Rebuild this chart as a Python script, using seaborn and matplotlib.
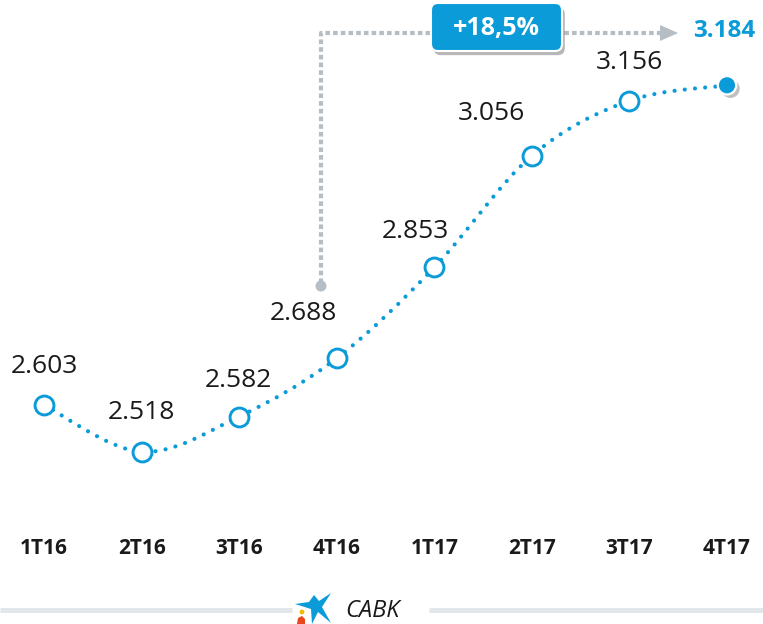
import numpy as np
import pandas as pd
import matplotlib
matplotlib.use("Agg")
import matplotlib.pyplot as plt
import matplotlib.patheffects as pe
from matplotlib.path import Path
from matplotlib.patches import PathPatch, FancyBboxPatch, Polygon, Circle
import seaborn as sns

# data
quarters = ["1T16", "2T16", "3T16", "4T16", "1T17", "2T17", "3T17", "4T17"]
values = [2603, 2518, 2582, 2688, 2853, 3056, 3156, 3184]
value_labels = ["2.603", "2.518", "2.582", "2.688", "2.853", "3.056", "3.156", "3.184"]
growth_label = "+18,5%"
brand = "CABK"

BLUE = "#0a9bd8"
GREY = "#b5bec4"
DARK = "#1a1a1a"

sns.set_theme(style="white")
plt.rcParams["font.family"] = ["Open Sans", "DejaVu Sans"]

df = pd.DataFrame({"quarter": quarters, "value": values})
df["pos"] = np.arange(len(df))

fig = plt.figure(figsize=(7.63, 6.24), dpi=100)
ax = fig.add_axes([0, 0, 1, 1])
ax.set_xlim(-0.451, 7.369)
ax.set_ylim(2205, 3339)
ax.axis("off")

# smoothed dotted line (catmull-rom segments as cubic bezier)
pts = df[["pos", "value"]].to_numpy(float)
ext = np.vstack([pts[0], pts, pts[-1]])
verts = [tuple(pts[0])]
codes = [Path.MOVETO]
for i in range(len(pts) - 1):
    p0, p1, p2, p3 = ext[i], ext[i + 1], ext[i + 2], ext[i + 3]
    verts += [tuple(p1 + (p2 - p0) / 6), tuple(p2 - (p3 - p1) / 6), tuple(p2)]
    codes += [Path.CURVE4] * 3
ax.add_patch(PathPatch(Path(verts, codes), fill=False, edgecolor=BLUE, lw=3,
                       linestyle=(0, (0.01, 2.45)), capstyle="round", zorder=2))

# open markers
sns.scatterplot(data=df.iloc[:-1], x="pos", y="value", s=185, marker="o",
                facecolor="white", edgecolor=BLUE, linewidth=2.1, zorder=3,
                ax=ax, legend=False)
# last point filled
sns.scatterplot(data=df.iloc[-1:], x="pos", y="value", s=175, marker="o",
                color=BLUE, edgecolor="white", linewidth=1.6, zorder=4,
                ax=ax, legend=False)
ax.collections[-1].set_path_effects([
    pe.SimplePatchShadow(offset=(2.5, -2.5), shadow_rgbFace="#808080", alpha=0.5),
    pe.Normal()])
ax.set_xlim(-0.451, 7.369)
ax.set_ylim(2205, 3339)

# value labels (offsets in pixels)
label_dx = [0, 0, -1, -33, -19, -40, 0]
label_dy = [38, 39, 36, 45, 36, 42, 38]
for i in range(len(df) - 1):
    ax.annotate(value_labels[i], (df["pos"][i], df["value"][i]),
                xytext=(label_dx[i] * 0.72, label_dy[i] * 0.72),
                textcoords="offset points", ha="center", va="center",
                fontsize=19, color=DARK)
ax.annotate(value_labels[-1], (df["pos"].iloc[-1], df["value"].iloc[-1]),
            xytext=(-3 * 0.72, 54 * 0.72), textcoords="offset points",
            ha="center", va="center", fontsize=17.5, fontweight="bold", color=BLUE)

# category labels
for i, q in enumerate(quarters):
    ax.text(i, 1 - 548 / 624, q, transform=ax.get_xaxis_transform(),
            ha="center", va="center", fontsize=15, fontweight="bold", color=DARK)

# decorations in pixel coordinates
ov = fig.add_axes([0, 0, 1, 1], zorder=5)
ov.set_xlim(0, 763)
ov.set_ylim(624, 0)
ov.axis("off")
ov.patch.set_visible(False)

# growth bracket
ov.plot([321, 321, 660], [283, 33, 33], color=GREY, lw=3,
        linestyle=(0, (1.1, 0.75)), solid_capstyle="butt")
ov.add_patch(Circle((321, 286), 5.5, color=GREY, lw=0))
ov.add_patch(Polygon([(660, 25), (678, 33), (660, 41)], closed=True,
                     color=GREY, lw=0))
box = FancyBboxPatch((431, 3), 131, 48, boxstyle="round,pad=0,rounding_size=7",
                     facecolor=BLUE, edgecolor="white", lw=1.5, zorder=6)
box.set_path_effects([
    pe.SimplePatchShadow(offset=(2, -3), shadow_rgbFace="#606060", alpha=0.45),
    pe.Normal()])
ov.add_patch(box)
ov.text(496, 28, growth_label, ha="center", va="center", fontsize=18,
        fontweight="bold", color="white", zorder=7)

# footer
ov.plot([0, 292], [610, 610], color="#e1e7ea", lw=3.6, solid_capstyle="butt")
ov.plot([429, 763], [610, 610], color="#e1e7ea", lw=3.6, solid_capstyle="butt")
star = [(331, 593), (322, 607), (331, 623), (318, 612), (312, 624),
        (311, 609), (295, 604), (309, 602), (314, 595), (319, 601)]
ov.add_patch(Polygon(star, closed=True, color=BLUE, lw=0))
ov.add_patch(Circle((302, 612), 2.4, color="#f5b800", lw=0))
ov.add_patch(Polygon([(297, 624), (298, 618), (302, 616), (305, 619), (305, 624)],
                     closed=True, color="#e9471e", lw=0))
ov.text(345, 611, brand, ha="left", va="center", fontsize=17,
        style="italic", color=DARK)

fig.savefig("out.png", dpi=100)
